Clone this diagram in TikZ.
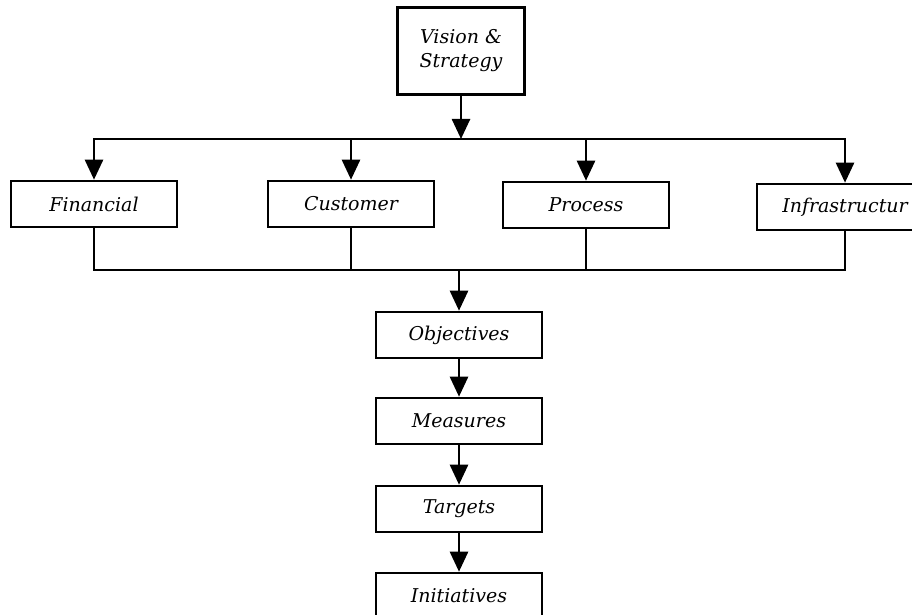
\documentclass[tikz,border=0pt]{standalone}
\usepackage{fontspec}
\setmainfont{DejaVu Serif}
\usetikzlibrary{arrows.meta}
\begin{document}
\begin{tikzpicture}[x=1pt,y=-1pt,
  box/.style={draw=black, line width=2.6pt, inner sep=0pt, fill=white,
    minimum height=46pt, font=\itshape\fontsize{19}{24}\selectfont, align=center},
  wide/.style={box, minimum width=166pt},
  conn/.style={line width=2.6pt, draw=black},
  arr/.style={conn, -{Triangle[width=18pt,length=20pt]}}]
\useasboundingbox (0,0) rectangle (912,615);
\clip (0,0) rectangle (912,615);
\fill[white] (0,0) rectangle (912,615);
\node[box, minimum width=127pt, minimum height=87pt] (vision) at (461,51) {Vision \&\\Strategy};
\node[wide] (fin) at (94,204) {Financial};
\node[wide] (cus) at (351,204) {Customer};
\node[wide] (pro) at (586,205) {Process};
\node[box, minimum width=176pt] (inf) at (845,207) {Infrastructur};
\coordinate (split) at (461,139);
\coordinate (merge) at (459,270);
\node[wide] (obj) at (459,335) {Objectives};
\node[wide] (mea) at (459,421) {Measures};
\node[wide] (tar) at (459,509) {Targets};
\node[wide] (ini) at (459,596) {Initiatives};
\draw[arr] (vision.south) -- (split);
\draw[arr] (split) -| (fin.north);
\draw[arr] (split) -| (cus.north);
\draw[arr] (split) -| (pro.north);
\draw[arr] (split) -| (inf.north);
\draw[conn] (fin.south) |- (merge);
\draw[conn] (cus.south) |- (merge);
\draw[conn] (pro.south) |- (merge);
\draw[conn] (inf.south) |- (merge);
\draw[arr] (merge) -- (obj.north);
\draw[arr] (obj.south) -- (mea.north);
\draw[arr] (mea.south) -- (tar.north);
\draw[arr] (tar.south) -- (ini.north);
\end{tikzpicture}
\end{document}
